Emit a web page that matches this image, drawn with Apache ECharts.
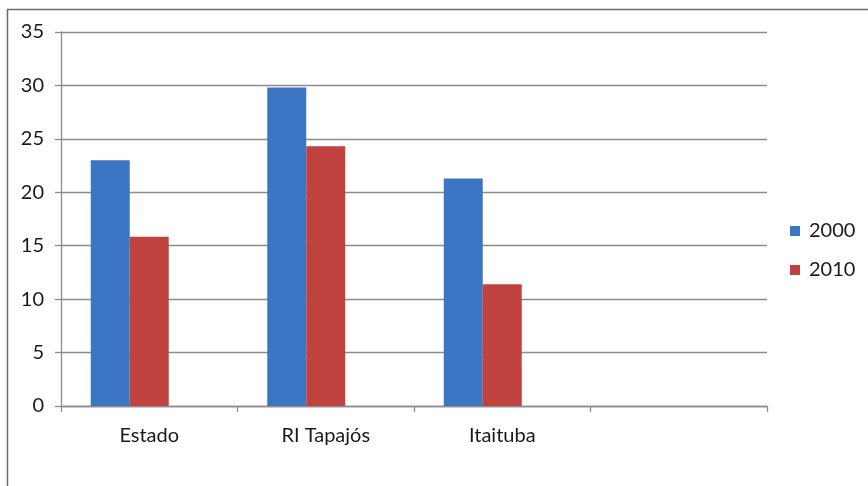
<!DOCTYPE html>
<html>
<head>
<meta charset="utf-8">
<script src="https://cdn.jsdelivr.net/npm/echarts@6/dist/echarts.min.js"></script>
<style>
html,body{margin:0;padding:0;background:#fff;}
#c{width:868px;height:486px;}
</style>
</head>
<body>
<div id="c"></div>
<script>
const categories = ['Estado', 'RI Tapajós', 'Itaituba', ''];
const values2000 = [23.0, 29.8, 21.3, null];
const values2010 = [15.85, 24.3, 11.4, null];
const emptySeries = [null, null, null, null];
const yTicks = { min: 0, max: 35, interval: 5 };

const FONT = 'Lato';
const chart = echarts.init(document.getElementById('c'), null, { renderer: 'canvas' });
chart.setOption({
  animation: false,
  backgroundColor: '#fff',
  textStyle: { fontFamily: FONT },
  graphic: [{
    type: 'rect',
    shape: { x: 7.5, y: 9.5, width: 900, height: 520 },
    style: { fill: 'none', stroke: '#6a6a6a', lineWidth: 1.5 },
    silent: true
  }],
  grid: { left: 61, right: 101, top: 32, bottom: 80, containLabel: false },
  legend: {
    orient: 'vertical',
    left: 790,
    top: 221,
    padding: 0,
    itemWidth: 10,
    itemHeight: 10,
    itemGap: 19,
    data: ['2000', '2010'],
    textStyle: { fontFamily: FONT, fontSize: 20, color: '#1a1a1a', padding: [0, 0, 0, 4] },
    icon: 'rect'
  },
  xAxis: {
    type: 'category',
    data: categories,
    axisLine: { show: true, lineStyle: { color: '#8c8c8c', width: 1.3 } },
    axisTick: { show: true, length: 6, alignWithLabel: false, lineStyle: { color: '#8c8c8c', width: 1.3 } },
    axisLabel: { fontFamily: FONT, fontSize: 20, color: '#1a1a1a', margin: 20, interval: 0 },
    splitLine: { show: false }
  },
  yAxis: {
    type: 'value',
    min: yTicks.min,
    max: yTicks.max,
    interval: yTicks.interval,
    axisLine: { show: true, lineStyle: { color: '#8c8c8c', width: 1.3 } },
    axisTick: { show: true, length: 6, lineStyle: { color: '#8c8c8c', width: 1.3 } },
    axisLabel: { fontFamily: FONT, fontSize: 20, color: '#1a1a1a', margin: 17 },
    splitLine: { show: true, lineStyle: { color: '#8f8a86', width: 1.4 } }
  },
  series: [
    { name: '2000', type: 'bar', data: values2000, barWidth: 39, barGap: '0%', itemStyle: { color: '#3b75c3' } },
    { name: '2010', type: 'bar', data: values2010, barWidth: 39, barGap: '0%', itemStyle: { color: '#c0423f' } },
    { name: ' ', type: 'bar', data: emptySeries, barWidth: 39, barGap: '0%', itemStyle: { color: 'transparent' } }
  ]
});
</script>
</body>
</html>
